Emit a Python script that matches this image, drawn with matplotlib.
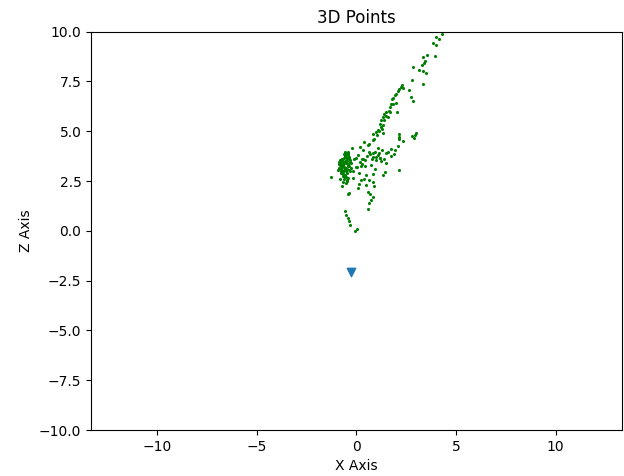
import numpy as np
import matplotlib
matplotlib.use("Agg")
import matplotlib.pyplot as plt

# point cloud (x, z)
pts_x = [4.32, 3.99, 4.15, 3.85, 4.02, 3.57, 3.32, 3.94, 3.45, 3.37, 3.29, 2.85, 3.12, 3.35, 3.49,
         2.79, 3.32, 2.29, 2.22, 2.15, 2.35, 2.65, 2.10, 1.99, 1.92, 1.85, 2.75, 2.82, 1.79, 1.72,
         1.82, 1.99, 1.70, 1.62, 1.49, 1.40, 1.69, 2.02, 1.32, 1.49, 1.57, 1.24, 1.40, 1.19, 1.32,
         1.25, 1.09, 1.29, 0.99, 1.15, 0.85, 1.02, 1.32, 2.12, 2.99, 2.92, 2.15, 2.79, 2.87, 0.90,
         2.35, 0.85, 2.15, 0.65, -0.22, 0.32, 1.07, 2.07, 1.95, 1.74, 0.82, 1.15, 1.49, 1.74, 1.90,
         -0.44, -0.52, -0.60, -0.35, -0.02, 0.35, 0.82, 0.99, 1.24, 1.49, 0.74, -0.77, -0.52, -0.27,
         -0.85, -0.60, -0.35, -0.02, 0.24, 0.45, -0.77, -0.52, -0.19, 0.12, 0.49, 0.82, 1.35, 2.12,
         -1.27, -0.69, -0.44, -0.19, 0.24, 0.62, 0.82, -0.69, -0.52, 0.15, 0.49, 0.90, -0.72, 0.07,
         0.57, 0.69, -0.44, -0.35, 0.82, 0.74, 0.65, 0.57, -0.55, -0.52, -0.44, -0.39, -0.32, 0.02,
         -0.05,
         -0.80, -0.70, -0.65, -0.55, -0.45, -0.75, -0.62, -0.48, -0.40, -0.30, -0.85, -0.72, -0.58,
         -0.50, -0.42, -0.68, -0.56, -0.46, -0.36, -0.25, -0.78, -0.64, -0.53, -0.41, -0.60, -0.48,
         -0.70, -0.57, -0.44, -0.66, 0.55, 0.70, 0.95, 1.10, 1.30, 0.60, 0.40, 1.20, 0.30, 0.10,
         -0.88, -0.82, -0.74, -0.67, -0.61, -0.54, -0.47, -0.38, -0.31, -0.91, -0.76, -0.63, -0.50,
         -0.58, -0.71, -0.45, -0.33, -0.80, -0.66, 0.18, 0.28, 0.45, 0.63, 0.78, 1.00, 1.18, 1.38,
         1.60, 0.05, 0.38, 0.92, 1.45, -0.10, 0.20]
pts_z = [9.90, 9.73, 9.65, 9.43, 9.33, 8.84, 8.73, 8.76, 8.54, 8.43, 8.33, 8.21, 8.09, 8.03, 7.92,
         7.59, 7.39, 7.34, 7.22, 7.12, 7.19, 7.05, 7.00, 6.88, 6.82, 6.67, 6.70, 6.53, 6.62, 6.38,
         6.38, 6.42, 6.22, 6.01, 5.94, 5.88, 5.98, 5.94, 5.71, 5.78, 5.71, 5.54, 5.58, 5.38, 5.33,
         5.21, 5.08, 5.11, 4.94, 4.99, 4.87, 4.81, 4.91, 4.87, 4.91, 4.81, 4.71, 4.74, 4.64, 4.61,
         4.49, 4.57, 4.61, 4.37, 4.16, 4.07, 4.16, 4.24, 4.07, 4.11, 3.90, 3.90, 3.90, 3.77, 3.87,
         3.90, 3.73, 3.65, 3.65, 3.65, 3.60, 3.70, 3.57, 3.48, 3.40, 3.32, 3.40, 3.40, 3.40,
         3.15, 3.20, 3.23, 3.20, 3.27, 3.23, 2.98, 2.98, 2.98, 2.90, 2.81, 2.86, 2.81, 3.03,
         2.70, 2.73, 2.65, 2.65, 2.56, 2.56, 2.43, 2.43, 2.40, 2.36, 2.31, 2.23, 2.23, 2.15,
         1.97, 1.86, 1.86, 1.92, 1.72, 1.56, 1.42, 1.09, 0.97, 0.80, 0.64, 0.47, 0.30, 0.09,
         0.00,
         3.55, 3.48, 3.30, 3.52, 3.58, 3.10, 3.05, 3.12, 3.35, 3.45, 3.35, 3.60, 3.75, 3.85, 3.95,
         2.85, 2.80, 2.92, 3.05, 3.15, 3.25, 3.42, 3.15, 3.25, 2.60, 2.55, 3.00, 3.70, 3.80, 2.95,
         3.75, 3.85, 3.95, 3.80, 4.05, 4.30, 4.45, 3.65, 3.35, 3.80,
         3.45, 3.28, 3.62, 3.40, 3.88, 3.08, 3.48, 3.70, 3.55, 3.05, 2.90, 2.75, 2.70,
         3.98, 3.18, 2.50, 3.00, 2.62, 3.35, 3.45, 3.60, 3.55, 3.95, 3.62, 3.72, 3.68, 3.62,
         3.95, 3.20, 2.60, 3.10, 2.95, 3.58, 4.20]

# single marker
cam_x = [-0.25]
cam_z = [-2.06]

fig = plt.figure(figsize=(6.24, 4.76), dpi=100)
ax = fig.add_axes([0.146, 0.0966, 0.85, 0.837])
ax.scatter(pts_x, pts_z, s=1.5, c='green')
ax.scatter(cam_x, cam_z, marker='v', s=36, c='tab:blue')
ax.set_xlim(-13.3, 13.3)
ax.set_ylim(-10, 10)
ax.set_xlabel('X Axis')
ax.set_ylabel('Z Axis')
ax.set_title('3D Points')
fig.savefig('out.png', dpi=100)
